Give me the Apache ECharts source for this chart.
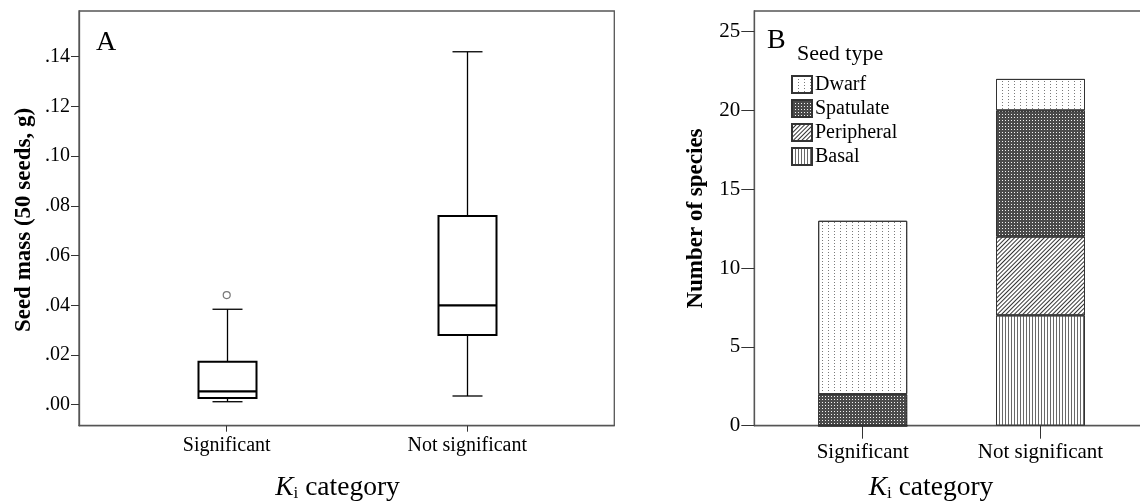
<!DOCTYPE html>
<html><head><meta charset="utf-8">
<script src="https://cdn.jsdelivr.net/npm/echarts@6/dist/echarts.min.js"></script>
<style>html,body{margin:0;padding:0;background:#fff}#c{width:1140px;height:503px}</style>
</head><body><div id="c"></div>
<script>
// ---- data ----
const categories = ['Significant', 'Not significant'];
// Panel A: seed mass (50 seeds, g) box statistics per category
const seedMassMin = [0.0012, 0.0035];
const seedMassQ1 = [0.0027, 0.0280];
const seedMassMedian = [0.0054, 0.0400];
const seedMassQ3 = [0.0173, 0.0759];
const seedMassMax = [0.0384, 0.1420];
const seedMassOutliers = [[0, 0.0441]];
const massTicks = [0, 0.02, 0.04, 0.06, 0.08, 0.10, 0.12, 0.14];
// Panel B: number of species per seed type
const seedTypes = ['Dwarf', 'Spatulate', 'Peripheral', 'Basal'];
const basal = [0, 7];
const peripheral = [0, 5];
const spatulate = [2, 8];
const dwarf = [11, 2];
const countTicks = [0, 5, 10, 15, 20, 25];
const categoryTicks = [0, 1];

// ---- chart ----
const FONT = '"Liberation Serif", "Times New Roman", serif';
const AXIS = '#555';
const chart = echarts.init(document.getElementById('c'), null, {renderer: 'canvas'});

function renderBox(params, api) {
  const i = api.value(0);
  const lo = api.coord([i, api.value(1)]);
  const q1 = api.coord([i, api.value(2)]);
  const md = api.coord([i, api.value(3)]);
  const q3 = api.coord([i, api.value(4)]);
  const hi = api.coord([i, api.value(5)]);
  const cx = Math.round(lo[0]) + 0.5, hw = 29, cw = 15;
  const thin = {stroke: '#000', lineWidth: 1.3};
  return {type: 'group', children: [
    {type: 'line', shape: {x1: cx, y1: q3[1], x2: cx, y2: hi[1]}, style: thin},
    {type: 'line', shape: {x1: cx, y1: q1[1], x2: cx, y2: lo[1]}, style: thin},
    {type: 'line', shape: {x1: cx - cw, y1: hi[1], x2: cx + cw, y2: hi[1]}, style: thin},
    {type: 'line', shape: {x1: cx - cw, y1: lo[1], x2: cx + cw, y2: lo[1]}, style: thin},
    {type: 'rect', shape: {x: cx - hw, y: q3[1], width: 2 * hw, height: q1[1] - q3[1]},
      style: {fill: '#fff', stroke: '#000', lineWidth: 2}},
    {type: 'line', shape: {x1: cx - hw, y1: md[1], x2: cx + hw, y2: md[1]},
      style: {stroke: '#000', lineWidth: 2.2}}
  ]};
}

const boxData = categories.map((c, i) => [i, seedMassMin[i], seedMassQ1[i], seedMassMedian[i], seedMassQ3[i], seedMassMax[i]]);

const decals = {
  Dwarf: {symbol: 'rect', symbolSize: 1, color: '#7a7a7a', dashArrayX: [1, 5], dashArrayY: [1, 2]},
  Spatulate: {symbol: 'rect', symbolSize: 1, color: '#f2f2f2', dashArrayX: [1, 2], dashArrayY: [1, 2]},
  Peripheral: {symbol: 'rect', symbolSize: 1, color: '#333', dashArrayX: [1, 0], dashArrayY: [1, 2], rotation: -Math.PI / 4},
  Basal: {symbol: 'rect', symbolSize: 1, color: '#6a6a6a', dashArrayX: [1, 2], dashArrayY: [1, 0]}
};
const fills = {Dwarf: '#fff', Spatulate: '#4a4a4a', Peripheral: '#fff', Basal: '#fff'};
const values = {Dwarf: dwarf, Spatulate: spatulate, Peripheral: peripheral, Basal: basal};

function barSeries(name) {
  return {
    name, type: 'bar', stack: 'seed', xAxisIndex: 2, yAxisIndex: 2, barWidth: 89,
    data: values[name],
    itemStyle: {color: fills[name], borderColor: '#333', borderWidth: 1, decal: decals[name]},
    emphasis: {disabled: true}, animation: false
  };
}

const labelStyle = {fontFamily: FONT, fontSize: 20, color: '#000'};
const B_TOP = 11, B_H = 414.7, B_MAX = 26.31;
const titleRich = {k: {fontFamily: FONT, fontSize: 27.5, fontStyle: 'italic'}, s: {fontFamily: FONT, fontSize: 17, verticalAlign: 'bottom'}};

chart.setOption({
  animation: false,
  aria: {enabled: false, decal: {show: false}},
  grid: [
    {left: 79, top: 11, width: 535.3, height: 414.7, show: true, borderColor: AXIS, borderWidth: 1.3, backgroundColor: '#fff', outerBoundsMode: 'none', containLabel: false},
    {left: 754.3, top: B_TOP, width: 395, height: B_H, show: true, borderColor: AXIS, borderWidth: 1.3, backgroundColor: '#fff', outerBoundsMode: 'none', containLabel: false},
    // bar layout grid: category bands centred on the frame's category ticks
    {left: 773.8, top: B_TOP, width: 355.6, height: B_H, show: false, outerBoundsMode: 'none', containLabel: false}
  ],
  xAxis: [
    {type: 'value', gridIndex: 0, min: -0.614, max: 1.611, splitLine: {show: false},
      axisLine: {show: true, onZero: false, lineStyle: {color: AXIS, width: 1.3}},
      axisTick: {show: true, customValues: categoryTicks, length: 6, lineStyle: {color: '#333'}},
      axisLabel: Object.assign({customValues: categoryTicks, margin: 10, formatter: v => categories[Math.round(v)]}, labelStyle)},
    {type: 'value', gridIndex: 1, min: -0.6097, max: 1.6119, splitLine: {show: false},
      axisLine: {show: true, onZero: false, lineStyle: {color: AXIS, width: 1.3}},
      axisTick: {show: true, customValues: categoryTicks, length: 13, lineStyle: {color: '#333'}},
      axisLabel: Object.assign({customValues: categoryTicks, margin: 16, formatter: v => categories[Math.round(v)]}, labelStyle, {fontSize: 21})},
    {type: 'category', gridIndex: 2, data: categories, show: false}
  ],
  yAxis: [
    {type: 'value', gridIndex: 0, min: -0.00845, max: 0.1584, splitLine: {show: false},
      axisLine: {show: true, onZero: false, lineStyle: {color: AXIS, width: 1.3}},
      axisTick: {show: true, customValues: massTicks, length: 8, lineStyle: {color: '#333'}},
      axisLabel: Object.assign({customValues: massTicks, margin: 9, formatter: v => v.toFixed(2).slice(1)}, labelStyle)},
    {type: 'value', gridIndex: 1, min: 0, max: B_MAX, splitLine: {show: false},
      axisLine: {show: true, onZero: false, lineStyle: {color: AXIS, width: 1.3}},
      axisTick: {show: true, customValues: countTicks, length: 13, lineStyle: {color: '#333'}},
      axisLabel: Object.assign({customValues: countTicks, margin: 14}, labelStyle, {fontSize: 21})},
    {type: 'value', gridIndex: 2, min: 0, max: B_MAX, show: false, splitLine: {show: false}}
  ],
  legend: {
    data: seedTypes, orient: 'vertical', left: 791, top: 74.5, padding: 0,
    itemWidth: 20, itemHeight: 17, itemGap: 4, icon: 'rect', selectedMode: false,
    textStyle: {fontFamily: FONT, fontSize: 20, color: '#000', padding: [0, 0, 0, -2]}
  },
  series: [
    {type: 'custom', xAxisIndex: 0, yAxisIndex: 0, renderItem: renderBox, data: boxData,
      encode: {x: 0, y: [1, 2, 3, 4, 5]}, animation: false, silent: true},
    {type: 'scatter', xAxisIndex: 0, yAxisIndex: 0, data: seedMassOutliers, symbol: 'circle', symbolSize: 7,
      itemStyle: {color: '#fff', borderColor: '#555', borderWidth: 1.2}, silent: true},
    barSeries('Basal'), barSeries('Peripheral'), barSeries('Spatulate'), barSeries('Dwarf')
  ],
  graphic: [
    {type: 'text', x: 96, y: 42.5, style: {text: 'A', font: '28px ' + FONT, fill: '#000', align: 'left', verticalAlign: 'middle'}},
    {type: 'text', x: 767, y: 41, style: {text: 'B', font: '28px ' + FONT, fill: '#000', align: 'left', verticalAlign: 'middle'}},
    {type: 'text', x: 797, y: 54.3, style: {text: 'Seed type', font: '22px ' + FONT, fill: '#000', align: 'left', verticalAlign: 'middle'}},
    {type: 'text', x: 24, y: 220, rotation: Math.PI / 2, style: {text: 'Seed mass (50 seeds, g)', font: 'bold 23px ' + FONT, fill: '#000', align: 'center', verticalAlign: 'middle'}},
    {type: 'text', x: 695.7, y: 218.5, rotation: Math.PI / 2, style: {text: 'Number of species', font: 'bold 23px ' + FONT, fill: '#000', align: 'center', verticalAlign: 'middle'}},
    {type: 'text', x: 337.5, y: 487.7, style: {text: '{k|K}{s|i} category', font: '27.5px ' + FONT, fill: '#000', align: 'center', verticalAlign: 'middle', rich: titleRich}},
    {type: 'text', x: 931, y: 487.7, style: {text: '{k|K}{s|i} category', font: '27.5px ' + FONT, fill: '#000', align: 'center', verticalAlign: 'middle', rich: titleRich}}
  ]
});
</script>
</body></html>
